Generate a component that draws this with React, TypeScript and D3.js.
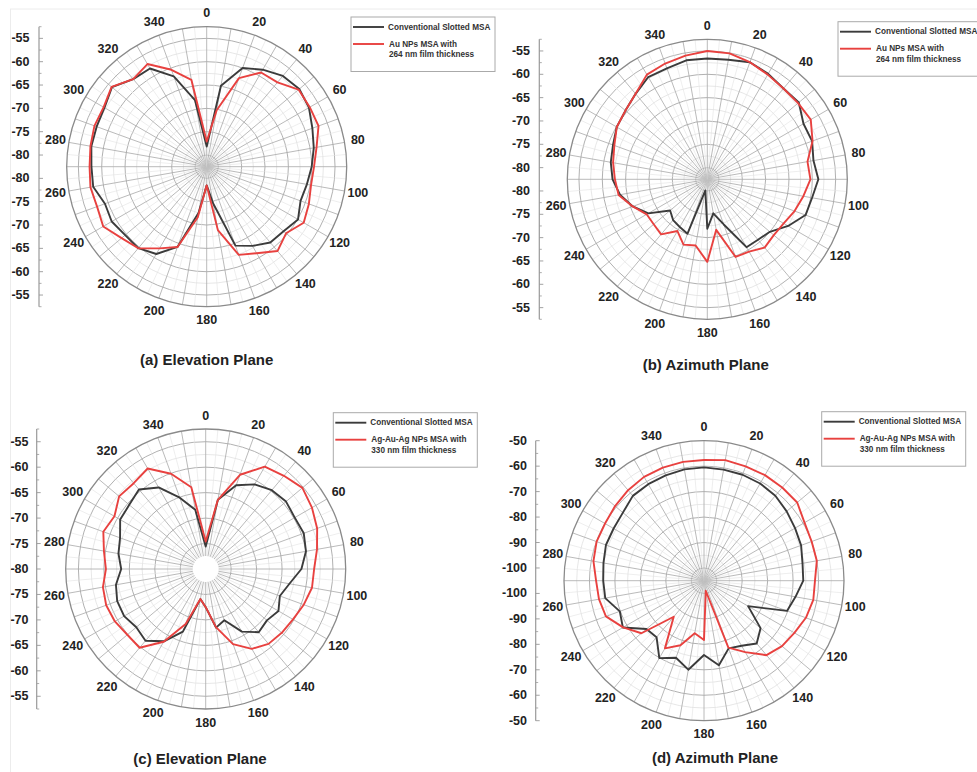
import React, { useRef, useEffect } from 'react';
import * as d3 from 'd3';

// angles in degrees, one sample every 10°
const ANGLES = [0, 10, 20, 30, 40, 50, 60, 70, 80, 90, 100, 110, 120, 130, 140, 150, 160, 170,
  180, 190, 200, 210, 220, 230, 240, 250, 260, 270, 280, 290, 300, 310, 320, 330, 340, 350];
const ANGLE_LABELS = [0, 20, 40, 60, 80, 100, 120, 140, 160, 180, 200, 220, 240, 260, 280, 300, 320, 340];

// (a) elevation plane, Au NPs
const A_CONV = [-78.2, -64.9, -60.0, -58.5, -57.1, -56.6, -57.2, -58.4, -59.2, -60.0, -60.7, -61.1,
  -59.9, -61.0, -61.3, -62.9, -64.5, -74.5, -78.5, -72.5, -64.2, -60.9, -59.7, -59.7,
  -59.0, -59.3, -57.8, -57.8, -57.4, -57.4, -57.2, -56.0, -58.0, -58.2, -61.9, -68.0];
const A_NP = [-77.1, -70.2, -62.3, -59.2, -58.9, -56.8, -57.0, -57.0, -58.6, -59.5, -59.8, -59.2,
  -58.5, -60.3, -58.9, -61.1, -62.4, -68.7, -78.5, -71.5, -64.2, -62.3, -59.7, -58.7,
  -56.9, -57.5, -57.2, -57.4, -57.2, -56.9, -57.0, -55.9, -58.0, -57.1, -60.4, -63.6];

// (b) azimuth plane, Au NPs
const B_CONV = [-56.6, -56.5, -55.8, -56.4, -57.1, -56.9, -58.7, -58.6, -59.4, -58.7, -59.7, -60.1,
  -62.5, -65.0, -65.6, -65.7, -72.2, -75.1, -71.9, -80.1, -70.1, -70.7, -71.1, -72.1,
  -67.9, -65.5, -63.5, -62.2, -61.5, -61.0, -60.1, -59.6, -58.6, -57.2, -57.2, -56.6];
const B_NP = [-55.0, -55.1, -55.8, -56.6, -57.1, -57.1, -56.9, -58.5, -60.7, -60.4, -61.6, -62.6,
  -63.6, -63.9, -63.4, -64.6, -64.8, -71.5, -64.8, -68.1, -67.6, -69.7, -67.1, -67.5,
  -67.5, -65.5, -63.2, -62.7, -62.0, -61.3, -60.1, -59.6, -58.6, -56.6, -56.1, -55.6];

// (c) elevation plane, Ag-Au-Ag NPs
const C_CONV = [-75.6, -66.2, -62.5, -60.8, -59.8, -59.4, -59.8, -59.5, -60.0, -61.2, -63.3, -64.5,
  -63.5, -64.3, -63.8, -65.8, -69.3, -68.3, -72.5, -74.0, -66.9, -63.6, -61.6, -62.2,
  -61.5, -61.5, -62.1, -63.4, -62.6, -62.1, -60.6, -60.4, -59.6, -61.5, -65.1, -68.2];
const C_NP = [-74.6, -66.2, -60.3, -56.8, -56.1, -55.2, -55.9, -56.7, -57.8, -58.7, -58.8, -59.5,
  -60.2, -60.5, -60.8, -61.9, -64.3, -68.4, -72.5, -74.0, -68.5, -63.5, -59.8, -59.9,
  -59.4, -59.2, -59.5, -60.4, -59.7, -58.6, -59.3, -57.8, -58.0, -57.2, -60.1, -63.7];

// (d) azimuth plane, Ag-Au-Ag NPs
const D_CONV = [-60.5, -60.7, -60.7, -60.9, -61.4, -62.6, -63.7, -64.4, -65.7, -66.0, -68.5, -70.3,
  -85.0, -76.0, -72.8, -75.5, -76.7, -71.3, -75.8, -69.5, -72.8, -69.9, -76.0, -75.5,
  -68.2, -69.8, -65.6, -65.4, -64.9, -64.0, -64.0, -63.4, -61.5, -61.2, -61.0, -60.6];
const D_NP = [-57.6, -56.9, -57.2, -57.1, -57.2, -57.2, -59.4, -60.0, -60.0, -61.4, -61.4, -62.4,
  -64.0, -65.0, -66.8, -72.6, -77.0, -101.0, -81.7, -84.0, -78.0, -74.3, -86.5, -72.9,
  -68.3, -64.0, -63.1, -62.6, -60.9, -60.1, -60.1, -59.4, -58.6, -57.9, -57.7, -57.6];

const TICKS_AB = [-80, -75, -70, -65, -60, -55];
const TICKS_C = [-80, -75, -70, -65, -60, -55];
const TICKS_D = [-100, -90, -80, -70, -60, -50];

const LEGEND_CONV = 'Conventional Slotted MSA';
const LEGEND_AU = ['Au NPs MSA with', '264 nm film thickness'];
const LEGEND_AG = ['Ag-Au-Ag NPs MSA with', '330 nm film thickness'];
const TITLES = ['(a) Elevation Plane', '(b) Azimuth Plane', '(c) Elevation Plane', '(d) Azimuth Plane'];

const FONT = 'Liberation Sans, Arial, Helvetica, sans-serif';
const BLACK = '#3b3b3b';
const RED = '#e8413f';

interface PanelCfg {
  cx: number; cy: number; R: number;
  domain: [number, number]; ticks: number[]; step: number; hole: number;
  axisX: number; labelX: number;
  title: string; titleX: number; titleY: number;
  legendX: number; legendY: number; legendLines: string[];
  conv: number[]; np: number[];
}

const panels: PanelCfg[] = [
  { cx: 206.7, cy: 166.7, R: 140, domain: [-82.5, -52.5], ticks: TICKS_AB, step: 5, hole: 0,
    axisX: 39, labelX: 29.5, title: TITLES[0], titleX: 206.7, titleY: 365,
    legendX: 351, legendY: 17, legendLines: LEGEND_AU, conv: A_CONV, np: A_NP },
  { cx: 707.3, cy: 179.3, R: 140, domain: [-82.5, -52.5], ticks: TICKS_AB, step: 5, hole: 0,
    axisX: 539.3, labelX: 530, title: TITLES[1], titleX: 705.7, titleY: 370,
    legendX: 838, legendY: 21.7, legendLines: LEGEND_AU, conv: B_CONV, np: B_NP },
  { cx: 205.7, cy: 569, R: 140, domain: [-80, -52.5], ticks: TICKS_C, step: 5, hole: 13,
    axisX: 36.7, labelX: 28.5, title: TITLES[2], titleX: 200, titleY: 764,
    legendX: 333.3, legendY: 412.7, legendLines: LEGEND_AG, conv: C_CONV, np: C_NP },
  { cx: 704, cy: 580.7, R: 140, domain: [-105, -50], ticks: TICKS_D, step: 10, hole: 0,
    axisX: 535.7, labelX: 527, title: TITLES[3], titleX: 715, titleY: 763,
    legendX: 821.7, legendY: 411.7, legendLines: LEGEND_AG, conv: D_CONV, np: D_NP },
];

const rad = (deg: number) => (deg * Math.PI) / 180;

function drawPanel(svg: d3.Selection<SVGSVGElement, unknown, null, undefined>, p: PanelCfg) {
  const r = d3.scaleLinear().domain(p.domain).range([0, p.R]);
  const g = svg.append('g').attr('transform', `translate(${p.cx},${p.cy})`);

  // concentric grid
  const circles = d3.range(p.domain[0] + p.step / 2, p.domain[1] - 0.01, p.step / 2)
    .filter(v => r(v) > p.hole + 1);
  g.selectAll('circle.grid')
    .data(circles)
    .enter()
    .append('circle')
    .attr('r', d => r(d))
    .attr('fill', 'none')
    .attr('stroke', d => (p.ticks.includes(d) ? '#a8a8a8' : '#dcdcdc'))
    .attr('stroke-width', d => (p.ticks.includes(d) ? 0.9 : 0.7));

  // spokes
  const spokes = d3.range(0, 360, 5);
  g.selectAll('line.spoke')
    .data(spokes)
    .enter()
    .append('line')
    .attr('x1', d => Math.sin(rad(d)) * p.hole)
    .attr('y1', d => -Math.cos(rad(d)) * p.hole)
    .attr('x2', d => Math.sin(rad(d)) * p.R)
    .attr('y2', d => -Math.cos(rad(d)) * p.R)
    .attr('stroke', d => (d % 10 === 0 ? '#a8a8a8' : '#e2e2e2'))
    .attr('stroke-width', d => (d % 10 === 0 ? 0.8 : 0.6));

  // outer boundary
  g.append('circle').attr('r', p.R).attr('fill', 'none').attr('stroke', '#8a8a8a').attr('stroke-width', 1.3);

  // angle labels
  g.selectAll('text.ang')
    .data(ANGLE_LABELS)
    .enter()
    .append('text')
    .attr('x', d => Math.sin(rad(d)) * (p.R + 13.5))
    .attr('y', d => -Math.cos(rad(d)) * (p.R + 13.5))
    .attr('text-anchor', 'middle')
    .attr('dominant-baseline', 'central')
    .style('font-family', FONT)
    .style('font-weight', 'bold')
    .style('font-size', '12.5px')
    .attr('fill', '#222')
    .text(d => `${d}`);

  // series
  const line = d3.lineRadial<number>()
    .angle((d, i) => rad(ANGLES[i]))
    .radius(d => r(d))
    .curve(d3.curveLinearClosed);
  g.append('path').attr('d', line(p.conv) || '').attr('fill', 'none')
    .attr('stroke', BLACK).attr('stroke-width', 1.9).attr('stroke-linejoin', 'round');
  g.append('path').attr('d', line(p.np) || '').attr('fill', 'none')
    .attr('stroke', RED).attr('stroke-width', 1.9).attr('stroke-linejoin', 'round');

  // radial axis (mirrored, top and bottom)
  svg.append('line')
    .attr('x1', p.axisX).attr('x2', p.axisX)
    .attr('y1', p.cy - p.R).attr('y2', p.cy + p.R)
    .attr('stroke', '#999').attr('stroke-width', 1.2);
  const minorTicks = d3.range(p.domain[0] + p.step / 2, p.domain[1] + 0.01, p.step / 2)
    .filter(v => !p.ticks.includes(v));
  const tickPos = (vals: number[]) => {
    const out: number[] = [];
    vals.forEach(v => {
      const rr = r(v);
      out.push(p.cy - rr);
      if (rr > 0.5) out.push(p.cy + rr);
    });
    return out;
  };
  svg.append('g').selectAll('line')
    .data(tickPos(minorTicks))
    .enter()
    .append('line')
    .attr('x1', p.axisX).attr('x2', p.axisX + 2.5)
    .attr('y1', d => d).attr('y2', d => d)
    .attr('stroke', '#999').attr('stroke-width', 0.8);
  const majors: { y: number; v: number }[] = [];
  p.ticks.forEach(v => {
    const rr = r(v);
    majors.push({ y: p.cy - rr, v });
    if (rr > 0.5) majors.push({ y: p.cy + rr, v });
  });
  const ax = svg.append('g');
  ax.selectAll('line')
    .data(majors)
    .enter()
    .append('line')
    .attr('x1', p.axisX).attr('x2', p.axisX + 4)
    .attr('y1', d => d.y).attr('y2', d => d.y)
    .attr('stroke', '#999').attr('stroke-width', 0.9);
  ax.selectAll('text')
    .data(majors)
    .enter()
    .append('text')
    .attr('x', p.labelX)
    .attr('y', d => d.y)
    .attr('text-anchor', 'end')
    .attr('dominant-baseline', 'central')
    .style('font-family', FONT)
    .style('font-weight', 'bold')
    .style('font-size', '12.5px')
    .attr('fill', '#222')
    .text(d => `${d.v}`);

  // legend
  const lg = svg.append('g').attr('transform', `translate(${p.legendX},${p.legendY})`);
  lg.append('rect').attr('width', 144).attr('height', 54.5)
    .attr('fill', '#fff').attr('stroke', '#aaa').attr('stroke-width', 1);
  lg.append('line').attr('x1', 2).attr('x2', 33).attr('y1', 10).attr('y2', 10)
    .attr('stroke', BLACK).attr('stroke-width', 1.9);
  lg.append('line').attr('x1', 2).attr('x2', 33).attr('y1', 27).attr('y2', 27)
    .attr('stroke', RED).attr('stroke-width', 1.9);
  const legendText = [
    { t: LEGEND_CONV, x: 37, y: 10 },
    { t: p.legendLines[0], x: 38, y: 27 },
    { t: p.legendLines[1], x: 38, y: 37.5 },
  ];
  lg.selectAll('text')
    .data(legendText)
    .enter()
    .append('text')
    .attr('x', d => d.x)
    .attr('y', d => d.y)
    .attr('dominant-baseline', 'central')
    .style('font-family', FONT)
    .style('font-weight', 'bold')
    .style('font-size', '8.2px')
    .attr('fill', '#333')
    .text(d => d.t);

  // title
  svg.append('text')
    .attr('x', p.titleX).attr('y', p.titleY)
    .attr('text-anchor', 'middle')
    .style('font-family', FONT)
    .style('font-weight', 'bold')
    .style('font-size', '15px')
    .attr('fill', '#222')
    .text(p.title);
}

const PolarFigure: React.FC = () => {
  const width = 977;
  const height = 772;
  const svgRef = useRef<SVGSVGElement>(null);

  useEffect(() => {
    if (!svgRef.current) return;
    const svg = d3.select(svgRef.current);
    svg.selectAll('*').remove();

    svg.append('rect').attr('width', width).attr('height', height).attr('fill', '#fff');
    // faint scan border
    svg.append('line').attr('x1', 10).attr('x2', width).attr('y1', 9).attr('y2', 9)
      .attr('stroke', '#ececec').attr('stroke-width', 1);
    svg.append('line').attr('x1', 10.5).attr('x2', 10.5).attr('y1', 9).attr('y2', height)
      .attr('stroke', '#ececec').attr('stroke-width', 1);

    panels.forEach(p => drawPanel(svg, p));
  }, []);

  return <svg ref={svgRef} width={width} height={height} style={{ display: 'block' }} />;
};

export default function App() {
  return (
    <div style={{ position: 'absolute', left: 0, top: 0 }}>
      <PolarFigure />
    </div>
  );
}
